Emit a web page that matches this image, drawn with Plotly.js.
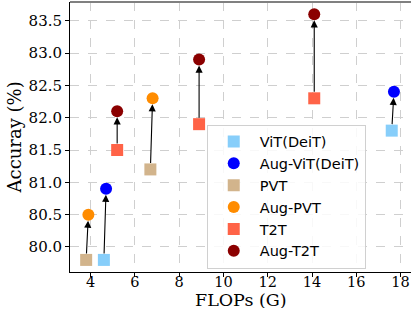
<!DOCTYPE html>
<html>
<head>
<meta charset="utf-8">
<script src="https://cdn.plot.ly/plotly-3.0.1.min.js"></script>
<style>html,body{margin:0;padding:0;background:#fff;}#chart{width:411px;height:310px;}</style>
</head>
<body>
<div id="chart"></div>
<script>
// Data
const seriesNames = ["ViT(DeiT)", "Aug-ViT(DeiT)", "PVT", "Aug-PVT", "T2T", "Aug-T2T"];
const vitFlops = [4.6, 17.6];
const vitAcc = [79.8, 81.8];
const augVitFlops = [4.7, 17.7];
const augVitAcc = [80.9, 82.4];
const pvtFlops = [3.8, 6.7];
const pvtAcc = [79.8, 81.2];
const augPvtFlops = [3.9, 6.8];
const augPvtAcc = [80.5, 82.3];
const t2tFlops = [5.2, 8.9, 14.1];
const t2tAcc = [81.5, 81.9, 82.3];
const augT2tFlops = [5.2, 8.9, 14.1];
const augT2tAcc = [82.1, 82.9, 83.6];
const xTicks = [4, 6, 8, 10, 12, 14, 16, 18];
const yTicks = [80.0, 80.5, 81.0, 81.5, 82.0, 82.5, 83.0, 83.5];
const xTitle = "FLOPs (G)";
const yTitle = "Accuray (%)";

const colors = ["#87CEFA", "#0000FF", "#D2B48C", "#FF8C00", "#FF6347", "#8B0000"];
const symbols = ["square", "circle", "square", "circle", "square", "circle"];
const xs = [vitFlops, augVitFlops, pvtFlops, augPvtFlops, t2tFlops, augT2tFlops];
const ys = [vitAcc, augVitAcc, pvtAcc, augPvtAcc, t2tAcc, augT2tAcc];

const traces = seriesNames.map((n, i) => ({
  type: "scatter", mode: "markers", name: n,
  x: xs[i], y: ys[i], legendgroup: "g" + i,
  marker: {color: colors[i], symbol: symbols[i], size: 12, line: {width: 0}}
}));

const serif = "DejaVu Serif, serif";

// arrows from baseline (square) to augmented (circle)
const pairs = [[0, 1], [2, 3], [4, 5]];
const annotations = [];
pairs.forEach(([a, b]) => {
  xs[a].forEach((_, k) => {
    annotations.push({
      x: xs[b][k], y: ys[b][k], ax: xs[a][k], ay: ys[a][k],
      xref: "x", yref: "y", axref: "x", ayref: "y",
      showarrow: true, arrowhead: 2, arrowsize: 1.3, arrowwidth: 1.1,
      arrowcolor: "#000", standoff: 6, startstandoff: 5, text: ""
    });
  });
});
// axis titles
annotations.push({
  text: xTitle, xref: "paper", yref: "paper", x: 0.5, y: -0.1055,
  xanchor: "center", yanchor: "middle", showarrow: false, height: 16,
  font: {family: serif, size: 17.5, color: "#000"}
});
annotations.push({
  text: yTitle, xref: "paper", yref: "paper", x: -0.163, y: 0.5,
  xanchor: "center", yanchor: "middle", showarrow: false, textangle: -90,
  font: {family: serif, size: 18, color: "#000"}
});

const layout = {
  width: 411, height: 310,
  margin: {l: 70, r: 0, t: 2, b: 38},
  paper_bgcolor: "#fff", plot_bgcolor: "#fff",
  showlegend: true,
  legend: {
    x: 0.401, y: 0.546, xanchor: "left", yanchor: "top",
    bgcolor: "rgba(255,255,255,0.85)", bordercolor: "#d0d0d0", borderwidth: 1,
    font: {family: "DejaVu Sans, sans-serif", size: 14.5, color: "#000"},
    tracegroupgap: 0, itemwidth: 42
  },
  xaxis: {
    range: [3.07, 18.47], tickvals: xTicks, ticktext: xTicks.map(String),
    showgrid: true, gridcolor: "#cfcfcf", griddash: "dash", gridwidth: 1,
    zeroline: false, showline: true, linecolor: "#000", linewidth: 1,
    ticks: "outside", ticklen: 4, tickcolor: "#000", ticklabelstandoff: -7,
    tickfont: {family: serif, size: 14.5, color: "#000"}
  },
  yaxis: {
    range: [79.613, 83.79], tickvals: yTicks, ticktext: yTicks.map(v => v.toFixed(1)),
    showgrid: true, gridcolor: "#cfcfcf", griddash: "dash", gridwidth: 1,
    zeroline: false, showline: true, linecolor: "#000", linewidth: 1,
    ticks: "outside", ticklen: 4, tickcolor: "#000",
    tickfont: {family: serif, size: 15, color: "#000"}
  },
  shapes: [{type: "line", xref: "paper", yref: "paper", x0: 0, x1: 1, y0: 1, y1: 1,
            line: {color: "#808080", width: 2}}],
  annotations: annotations
};

Plotly.newPlot("chart", traces, layout, {displayModeBar: false, staticPlot: true});
</script>
</body>
</html>
